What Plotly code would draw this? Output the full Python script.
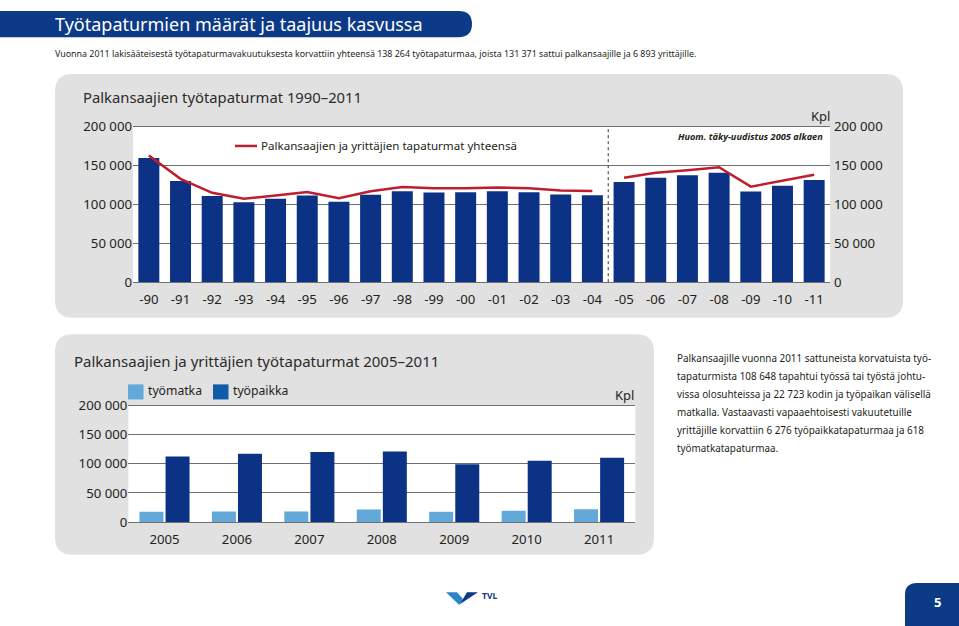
import plotly.graph_objects as go

W, H = 959, 626

# ---------------- data ----------------
years_top = ["-90", "-91", "-92", "-93", "-94", "-95", "-96", "-97", "-98", "-99", "-00",
             "-01", "-02", "-03", "-04", "-05", "-06", "-07", "-08", "-09", "-10", "-11"]
palkansaajat = [160000, 130400, 111000, 103000, 107500, 111600, 103700, 112500, 117000, 115400, 115800,
                117000, 115800, 113000, 112000, 129000, 134500, 137500, 141000, 116600, 124000, 131400]
yhteensa = [163000, 133000, 115000, 107500, 111600, 116000, 108000, 117000, 122500, 121000, 121000,
            122000, 121000, 118000, 117500, 134500, 140800, 144000, 148000, 123000, 131000, 138300]
break_index = 15  # täky-uudistus 2005 alkaen

years_bottom = ["2005", "2006", "2007", "2008", "2009", "2010", "2011"]
tyomatka = [17700, 18300, 18300, 21700, 17700, 19400, 22200]
tyopaikka = [112700, 117200, 120500, 121000, 99400, 105500, 110500]

y_ticks = [0, 50000, 100000, 150000, 200000]
y_ticktext = ["0", "50 000", "100 000", "150 000", "200 000"]

# ---------------- colours / fonts ----------------
NAVY = "#0c3285"
RED = "#be1e2d"
LIGHT = "#62a8d9"
MID = "#0f5ca8"
GREY_PANEL = "#e1e1e1"
GRID = "#707070"
TXT = "#231f20"
FONT = "Noto Sans"


def px(x):
    return x / W


def py(y):
    return 1 - y / H


def rrect(x0, y0, x1, y1, r, corners=(True, True, True, True)):
    tl, tr, br, bl = corners
    p = []
    p.append(f"M {px(x0 + (r if tl else 0))},{py(y0)}")
    p.append(f"L {px(x1 - (r if tr else 0))},{py(y0)}")
    if tr:
        p.append(f"Q {px(x1)},{py(y0)} {px(x1)},{py(y0 + r)}")
    p.append(f"L {px(x1)},{py(y1 - (r if br else 0))}")
    if br:
        p.append(f"Q {px(x1)},{py(y1)} {px(x1 - r)},{py(y1)}")
    p.append(f"L {px(x0 + (r if bl else 0))},{py(y1)}")
    if bl:
        p.append(f"Q {px(x0)},{py(y1)} {px(x0)},{py(y1 - r)}")
    p.append(f"L {px(x0)},{py(y0 + (r if tl else 0))}")
    if tl:
        p.append(f"Q {px(x0)},{py(y0)} {px(x0 + r)},{py(y0)}")
    p.append("Z")
    return " ".join(p)


def poly(points):
    return "M " + " L ".join(f"{px(x)},{py(y)}" for x, y in points) + " Z"


fig = go.Figure()

# ---------------- top chart ----------------
fig.add_trace(go.Bar(x=years_top, y=palkansaajat, marker=dict(color=NAVY, line=dict(width=0)),
                     xaxis="x", yaxis="y", showlegend=False, hoverinfo="x+y"))
fig.add_trace(go.Scatter(x=years_top[:break_index], y=yhteensa[:break_index], mode="lines",
                         line=dict(color=RED, width=2.5), xaxis="x", yaxis="y", showlegend=False))
fig.add_trace(go.Scatter(x=years_top[break_index:], y=yhteensa[break_index:], mode="lines",
                         line=dict(color=RED, width=2.5), xaxis="x", yaxis="y", showlegend=False))
fig.add_trace(go.Scatter(x=years_top, y=yhteensa, mode="lines", opacity=0, line=dict(width=0),
                         xaxis="x", yaxis="y3", showlegend=False, hoverinfo="skip"))

# ---------------- bottom chart ----------------
fig.add_trace(go.Bar(x=years_bottom, y=tyomatka, name="työmatka",
                     marker=dict(color=LIGHT, line=dict(width=0)), xaxis="x2", yaxis="y2", showlegend=False))
fig.add_trace(go.Bar(x=years_bottom, y=tyopaikka, name="työpaikka",
                     marker=dict(color=NAVY, line=dict(width=0)), xaxis="x2", yaxis="y2", showlegend=False))

TICKFONT = dict(family=FONT, size=13.2, color=TXT)
xaxis_common = dict(ticks="", zeroline=False, showgrid=False, type="category",
                    showline=True, mirror=True, linecolor=GRID, linewidth=1,
                    tickfont=TICKFONT, ticklabelstandoff=5, fixedrange=True)
yaxis_common = dict(range=[0, 200000], tickvals=y_ticks, ticktext=y_ticktext, showgrid=True,
                    gridcolor=GRID, gridwidth=1, ticks="", showline=False, zeroline=False,
                    tickfont=TICKFONT, fixedrange=True)

fig.update_layout(
    width=W, height=H,
    margin=dict(l=0, r=0, t=0, b=0),
    paper_bgcolor="white", plot_bgcolor="rgba(0,0,0,0)",
    barmode="group",
    bargap=0.28,
    bargroupgap=0.08,
    font=dict(family=FONT, color=TXT),
    xaxis=dict(domain=[px(133), px(830)], anchor="y", range=[-0.5, 21.5], **xaxis_common),
    yaxis=dict(domain=[py(281.3), py(121.3)], anchor="x", **yaxis_common),
    yaxis3=dict(overlaying="y", side="right", anchor="x", range=[0, 200000], tickvals=y_ticks,
                ticktext=y_ticktext, showgrid=False, ticks="", showline=False, zeroline=False,
                tickfont=TICKFONT, ticklabelstandoff=3, fixedrange=True),
    xaxis2=dict(domain=[px(128.3), px(635.3)], anchor="y2", range=[-0.5, 6.5], **xaxis_common),
    yaxis2=dict(domain=[py(528.3), py(408.3)], anchor="x2", **yaxis_common),
)

shapes = []
# grey panels
shapes.append(dict(type="path", path=rrect(55, 67, 903, 318, 18), xref="paper", yref="paper",
                   fillcolor=GREY_PANEL, line=dict(width=0), layer="below"))
shapes.append(dict(type="path", path=rrect(55, 335, 654, 562, 18), xref="paper", yref="paper",
                   fillcolor=GREY_PANEL, line=dict(width=0), layer="below"))
# white plot areas
for xr, yr in (("x domain", "y domain"), ("x2 domain", "y2 domain")):
    shapes.append(dict(type="rect", xref=xr, yref=yr, x0=0, x1=1, y0=0, y1=1,
                       fillcolor="white", line=dict(width=0), layer="below"))
# header bar
shapes.append(dict(type="path", path=rrect(-20, 2, 472, 29, 13.5), xref="paper", yref="paper",
                   fillcolor="#0d3a87", line=dict(width=0), layer="below"))
# page number box
shapes.append(dict(type="path", path=rrect(905, 591, 975, 640, 12, (True, False, False, False)),
                   xref="paper", yref="paper", fillcolor="#0d3a87", line=dict(width=0), layer="below"))
# logo
shapes.append(dict(type="path", path=poly([(446, 600.5), (457, 600.5), (463, 607.5), (459, 613.5)]),
                   xref="paper", yref="paper", fillcolor="#2a86c8", line=dict(width=0), layer="above"))
shapes.append(dict(type="path", path=poly([(459, 613.5), (463, 607.5), (467, 600.5), (478, 600.5)]),
                   xref="paper", yref="paper", fillcolor="#0d3a87", line=dict(width=0), layer="above"))
# dotted separator line (between 2004 and 2005)
shapes.append(dict(type="line", xref="x", yref="y", x0=break_index - 0.5, x1=break_index - 0.5,
                   y0=0, y1=200000, line=dict(color="#333", width=1, dash="dot")))
# top legend line
shapes.append(dict(type="line", xref="paper", yref="paper", x0=px(235), x1=px(257), y0=py(141), y1=py(141),
                   line=dict(color=RED, width=2.5)))
# bottom legend squares
shapes.append(dict(type="rect", xref="paper", yref="paper", x0=px(128), x1=px(143.5), y0=py(402), y1=py(386.5),
                   fillcolor=LIGHT, line=dict(width=0)))
shapes.append(dict(type="rect", xref="paper", yref="paper", x0=px(213), x1=px(228.5), y0=py(402), y1=py(386.5),
                   fillcolor=MID, line=dict(width=0)))
fig.update_layout(shapes=shapes)

ann = []


def text(x, y, s, size, color=TXT, xanchor="left", bold=False, italic=False, family=FONT):
    if bold:
        s = f"<b>{s}</b>"
    if italic:
        s = f"<i>{s}</i>"
    ann.append(dict(x=px(x), y=py(y), xref="paper", yref="paper", text=s, showarrow=False,
                    xanchor=xanchor, yanchor="middle", font=dict(family=family, size=size, color=color)))


text(53, 15, "Työtapaturmien määrät ja taajuus kasvussa", 18, color="white")
text(53, 46, "Vuonna 2011 lakisääteisestä työtapaturmavakuutuksesta korvattiin yhteensä 138 264 "
             "työtapaturmaa, joista 131 371 sattui palkansaajille ja 6 893 yrittäjille.", 8.9)
text(81, 91, "Palkansaajien työtapaturmat 1990–2011", 14.8, color="#2b2b2b")
text(259, 141, "Palkansaajien ja yrittäjien tapaturmat yhteensä", 11.6)
text(825, 131, "Huom. täky-uudistus 2005 alkaen", 9.2, xanchor="right", bold=True, italic=True)
text(832, 110, "Kpl", 13, xanchor="right")
text(72, 362, "Palkansaajien ja yrittäjien työtapaturmat 2005–2011", 15, color="#2b2b2b")
text(146, 393, "työmatka", 12.2, family="Noto Sans SemiBold, Noto Sans")
text(231, 393, "työpaikka", 12.2, family="Noto Sans SemiBold, Noto Sans")
text(636, 397, "Kpl", 13, xanchor="right")

side_lines = [
    "Palkansaajille vuonna 2011 sattuneista korvatuista työ-",
    "tapaturmista 108 648 tapahtui työssä tai työstä johtu-",
    "vissa olosuhteissa ja 22 723 kodin ja työpaikan välisellä",
    "matkalla. Vastaavasti vapaaehtoisesti vakuutetuille",
    "yrittäjille korvattiin 6 276 työpaikkatapaturmaa ja 618",
    "työmatkatapaturmaa.",
]
for i, line in enumerate(side_lines):
    text(675, 359 + i * 18.6, line, 9.9)

text(480, 603.5, "TVL", 8.5, color="#0d3a87", bold=True)
text(937, 611, "5", 13, color="white", xanchor="center", bold=True)

fig.update_layout(annotations=ann)

fig.write_html("out.html", config={"displayModeBar": False})
